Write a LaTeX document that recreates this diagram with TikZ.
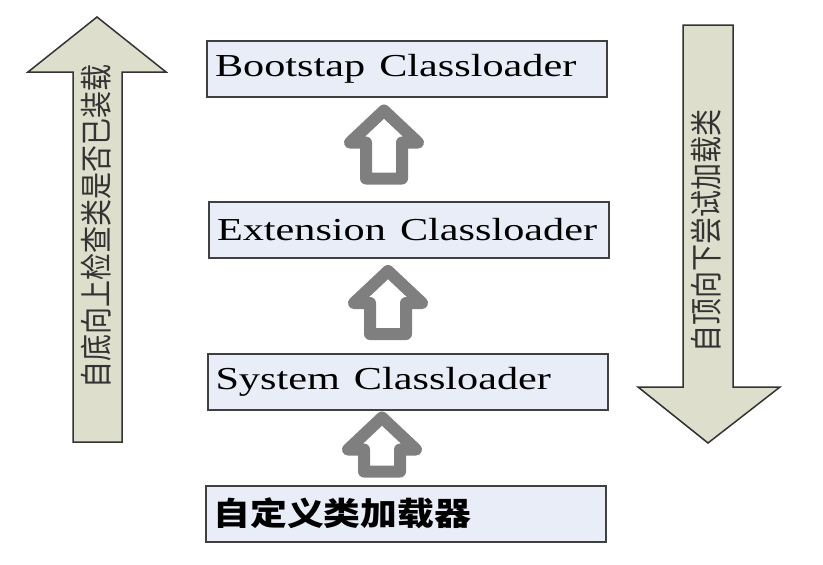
\documentclass[tikz,border=0pt]{standalone}
\usepackage{fontspec}
\setmainfont{Liberation Serif}
\newfontfamily\cjk{Noto Sans CJK SC}
\usepackage{xcolor}
\usetikzlibrary{calc,positioning}
\definecolor{loaderfill}{HTML}{E9EDF8}
\definecolor{bigarrow}{HTML}{DDDECB}
\definecolor{holgray}{HTML}{7F7F7F}
\newcommand{\wide}[1]{\scalebox{1.32}[1]{#1}}

\tikzset{
    loader/.style={draw=black!75, line width=2pt, fill=loaderfill,
        inner xsep=8pt, text width=384pt, minimum height=56pt, align=left,
        font=\fontsize{32}{36}\selectfont},
    holarrow/.pic={
        \draw[holgray, line width=12pt, line join=round]
            (0,6) -- (-34,38) -- (-18,38) -- (-18,#1-6) -- (18,#1-6)
            -- (18,38) -- (34,38) -- cycle;
    }
}

\begin{document}
\begin{tikzpicture}[x=1pt, y=-1pt]
                        \useasboundingbox (0,0) rectangle (823,565);

                        % the four class loaders
                        \node[loader] (boot) at (407, 69) {\wide{Bootstap Classloader}};
                        \node[loader] (ext) at (409, 229.5) {\wide{Extension Classloader}};
                        \node[loader] (sys) at (407.5, 382) {\wide{System Classloader}};
                        \node[loader] (self) at (405.5, 513.5) {\cjk\bfseries\scalebox{1.15}[1]{自定义类加载器}};

                        % hollow arrows between them
                        \pic at ($(self.north)+(-23.5, -73)$) {holarrow=66};
                        \pic at ($(sys.north)+(-19.5, -88)$) {holarrow=75};
                        \pic at ($(ext.north)+(-25, -96)$) {holarrow=80};

                        % big arrows at the sides
                        \draw[fill=bigarrow, line width=1.5pt, draw=black!80] (97, 17) -- (166, 72) -- (122, 72) -- (122, 442)
                            -- (73, 442) -- (73, 72) -- (28, 72) -- cycle;
                        \draw[fill=bigarrow, line width=1.5pt, draw=black!80] (683, 25) -- (733, 25) -- (733, 387) -- (780, 387)
                            -- (708, 443) -- (638, 387) -- (683, 387) -- cycle;

                        \node[rotate=90, font=\cjk\fontsize{27}{30}\selectfont, text=black!80] (up) at (96, 226) {\scalebox{1}[1.2]{自底向上检查类是否已装载}};
                        \node[rotate=90, font=\cjk\fontsize{27}{30}\selectfont, text=black!80] (down) at (706, 231) {\scalebox{1}[1.2]{自顶向下尝试加载类}};
                    \end{tikzpicture}
\end{document}
